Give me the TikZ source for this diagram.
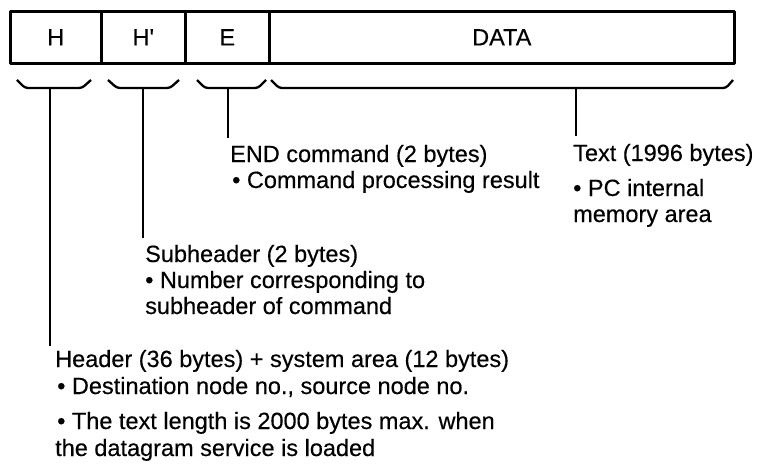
\documentclass[tikz,border=0pt]{standalone}
\usepackage{fontspec}
\setmainfont{Liberation Sans}[FakeBold=0.35]
\newfontfamily\plainsans{Liberation Sans}[FakeBold=0.35]
\begin{document}
\begin{tikzpicture}[x=1pt,y=-1pt,line join=round,
  cell/.style={draw,line width=2.6pt,minimum height=52pt,inner sep=0pt,anchor=north west,font=\fontsize{23.5}{27}\selectfont},
  brace/.style={line width=2.3pt,rounded corners=3pt},
  stem/.style={line width=2.6pt},
  lbl/.style={anchor=base west,inner sep=0pt,font=\fontsize{23.5}{27}\selectfont}]
\useasboundingbox (0,0) rectangle (767,468);
% cells
\node[cell,minimum width=91pt] (h) at (9,10) {H};
\node[cell,minimum width=84pt] (hp) at (100,10) {\plainsans H'};
\node[cell,minimum width=84pt] (e) at (184,10) {E};
\node[cell,minimum width=465pt] (data) at (268,10) {DATA};
% braces
\draw[brace] (17,80) -- (25,88) -- (82,88) -- (91,80);
\draw[brace] (108,80) -- (117,88) -- (170,88) -- (179,80);
\draw[brace] (197,80) -- (205,88) -- (258,88) -- (266,80);
\draw[brace] (271,80) -- (279,88) -- (726,88) -- (733,80);
% stem coordinates
\coordinate (bh) at (50,88);   \coordinate (th) at (50,346);
\coordinate (bhp) at (143,88); \coordinate (thp) at (143,238);
\coordinate (be) at (228,88);  \coordinate (te) at (228,138);
\coordinate (bd) at (576,88);  \coordinate (td) at (576,136);
\draw[stem] (bh) -- (th);
\draw[stem] (bhp) -- (thp);
\draw[stem] (be) -- (te);
\draw[stem] (bd) -- (td);
% labels E
\node[lbl] (e1) at (230,162) {END command (2 bytes)};
\node[lbl] (e2) at (232,188) {\textbullet\ Command processing result};
% labels DATA
\node[lbl] (d1) at (573,161) {Text (1996 bytes)};
\node[lbl] (d2) at (573,196) {\textbullet\ PC internal};
\node[lbl] (d3) at (573,222) {memory area};
% labels H'
\node[lbl] (s1) at (145,262) {Subheader (2 bytes)};
\node[lbl] (s2) at (145,288) {\textbullet\ Number corresponding to};
\node[lbl] (s3) at (145,314) {subheader of command};
% labels H
\node[lbl] (r1) at (55,367) {Header (36 bytes) + system area (12 bytes)};
\node[lbl] (r2) at (57,394) {\textbullet\ Destination node no., source node no.};
\node[lbl] (r3) at (57,429) {\textbullet\ The text length is 2000 bytes max. when};
\node[lbl] (r4) at (55,456) {the datagram service is loaded};
\end{tikzpicture}
\end{document}
